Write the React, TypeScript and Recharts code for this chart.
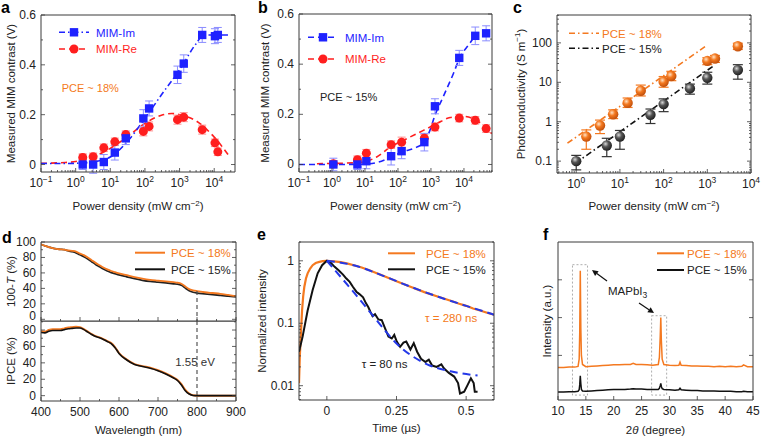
import React from 'react';
import { ComposedChart, Line, Scatter, XAxis, YAxis, ErrorBar, ReferenceLine, ReferenceArea } from 'recharts';

const FONT = '"Liberation Sans", Arial, Helvetica, sans-serif';
const ORANGE = '#f47920';
const BLUE = '#1e22ff';
const BLUE_ERR = '#8a8cff';
const RED = '#ff1e1e';
const RED_ERR = '#ff8c8c';
const INK = '#222';
const FRAME = '#3a3a3a';
const FIT_BLUE = '#2438e8';

// ---- panel a: MIM contrast vs power, PCE ~ 18%
const aPower = [1.6, 3.2, 6.5, 13.5, 28, 90, 132, 870, 1320, 4500, 10500, 12700];
const aImY = [0, 0, 0.01, 0.048, 0.105, 0.185, 0.225, 0.36, 0.405, 0.52, 0.515, 0.52];
const aImErr = [0.02, 0.035, 0.03, 0.03, 0.025, 0.035, 0.03, 0.035, 0.035, 0.03, 0.03, 0.03];
const aReY = [0.028, 0.031, 0.067, 0.091, 0.12, 0.133, 0.153, 0.18, 0.19, 0.14, 0.087, 0.051];
const aReErr = [0.015, 0.015, 0.015, 0.015, 0.015, 0.018, 0.018, 0.018, 0.018, 0.018, 0.015, 0.015];
const aImFitX = [0.1, 0.5, 1, 3, 10, 30, 100, 300, 1000, 3000, 5000, 10000, 20000, 30000];
const aImFitY = [0.004, 0.004, 0.005, 0.01, 0.03, 0.09, 0.185, 0.28, 0.38, 0.485, 0.52, 0.52, 0.52, 0.52];
const aReFitX = [0.1, 0.5, 1, 3, 10, 30, 100, 300, 600, 1000, 3000, 10000, 25000];
const aReFitY = [0.005, 0.008, 0.012, 0.03, 0.065, 0.11, 0.165, 0.198, 0.205, 0.2, 0.175, 0.11, 0.04];

// ---- panel b: MIM contrast vs power, PCE ~ 15%
const bPower = [1.1, 5.9, 11, 62, 129, 630, 1320, 7200, 22000, 47000];
const bImY = [0, 0, 0.013, 0.033, 0.053, 0.089, 0.232, 0.425, 0.513, 0.523];
const bImErr = [0.025, 0.02, 0.03, 0.035, 0.03, 0.035, 0.03, 0.03, 0.035, 0.03];
const bReY = [0.003, 0.019, 0.045, 0.079, 0.089, 0.105, 0.149, 0.185, 0.176, 0.143];
const bReErr = [0.012, 0.015, 0.015, 0.015, 0.02, 0.015, 0.015, 0.015, 0.015, 0.015];
const bImFitX = [0.1, 1, 8, 22, 62, 129, 370, 630, 930, 1320, 2350, 4800, 7300, 15000, 24000];
const bImFitY = [0, 0, 0.001, 0.007, 0.029, 0.049, 0.069, 0.089, 0.136, 0.196, 0.27, 0.363, 0.423, 0.483, 0.523];
const bReFitX = [0.35, 7, 22, 58, 145, 590, 1500, 3800, 9600, 24000, 70000];
const bReFitY = [0.003, 0.008, 0.029, 0.069, 0.096, 0.136, 0.163, 0.187, 0.192, 0.176, 0.123];

// ---- panel c: photoconductivity
const cOrX = [1.7, 3.5, 7, 15, 30, 100, 150, 1000, 1500, 5000];
const cOrY = [0.42, 0.8, 1.55, 3.0, 6.1, 10.3, 14.4, 35, 40, 82];
const cOrLo = [0.2, 0.5, 1.2, 2.3, 4.5, 7.5, 11, 28, 32, 68];
const cOrHi = [0.62, 1.1, 2.0, 4.0, 8.5, 14, 19, 42, 48, 98];
const cBkX = [1, 5, 10, 50, 100, 400, 1000, 5000];
const cBkY = [0.1, 0.25, 0.42, 1.5, 2.8, 7.0, 13, 20.5];
const cBkLo = [0.06, 0.13, 0.2, 0.9, 1.8, 5.0, 9, 12];
const cBkHi = [0.14, 0.38, 0.6, 2.1, 3.8, 9.0, 18, 28];
const cOrFitX = [0.63, 1000];
const cOrFitY = [0.285, 88];
const cBkFitX = [0.95, 1450];
const cBkFitY = [0.088, 27];

// ---- panel d: absorption and IPCE
const dWl = [400, 410, 420, 430, 440, 450, 460, 470, 480, 490, 500, 510, 520, 530, 540, 550, 560, 570, 580, 590, 600, 620, 640, 660, 680, 700, 720, 740, 750, 760, 770, 780, 790, 800, 820, 840, 860, 880, 900];
const dAbsOr = [97, 95, 93.5, 92, 91, 90.5, 90, 89, 88.5, 87.5, 85, 83, 80, 76.5, 73, 70, 67, 64.5, 62.5, 61, 59.5, 57, 54.5, 52.5, 51, 50, 49, 48, 47.5, 46, 42.5, 39, 37.5, 36.5, 35, 34, 33, 31.5, 30];
const dAbsBk = [97, 95, 93.5, 92, 91, 90.5, 90, 88.5, 87.5, 86, 83.5, 81, 78, 74.5, 71, 68, 65, 62.5, 60.5, 59, 57.5, 55, 52.5, 50.5, 49, 48, 47, 46, 45.5, 44, 40.5, 37, 35, 34, 33, 32, 31, 30, 29];
const dIpceOr = [78.5, 78, 80, 81, 81, 81, 82, 83, 83.5, 84, 83.5, 81, 78, 75, 72.5, 71, 69, 66.5, 64, 59, 52, 44, 38.5, 36, 34, 31, 27, 22, 19, 14, 7, 2.5, 0.5, 0, 0, 0, 0, 0, 0];
const dIpceBk = [77, 76.5, 78.5, 79.5, 79.5, 79.5, 80.5, 81.5, 82, 82.5, 82.5, 80.5, 77.5, 74.5, 72, 70.5, 68.5, 66, 63.5, 58.5, 51.5, 43.5, 38, 35.5, 33.5, 30.5, 26.5, 21.5, 18.5, 13, 6, 2, 0.3, 0, 0, 0, 0, 0, 0];

// ---- panel e: TRPL
const eOrX = [-0.1, -0.097, -0.093, -0.089, -0.085, -0.081, -0.075, -0.069, -0.06, -0.051, -0.04, -0.027, -0.015, 0, 0.025, 0.05, 0.075, 0.1, 0.125, 0.15, 0.2, 0.25, 0.3, 0.35, 0.4, 0.45, 0.475, 0.5, 0.525, 0.55, 0.575, 0.6];
const eOrY = [0.011, 0.03, 0.07, 0.16, 0.27, 0.38, 0.52, 0.63, 0.75, 0.85, 0.92, 0.96, 0.985, 1, 0.98, 0.95, 0.9, 0.84, 0.78, 0.71, 0.58, 0.47, 0.385, 0.315, 0.265, 0.225, 0.205, 0.19, 0.172, 0.16, 0.147, 0.137];
const eBkX = [-0.1, -0.087, -0.069, -0.051, -0.033, -0.017, 0, 0.015, 0.028, 0.043, 0.058, 0.07, 0.082, 0.094, 0.106, 0.118, 0.13, 0.14, 0.149, 0.157, 0.164, 0.173, 0.185, 0.197, 0.209, 0.221, 0.233, 0.242, 0.251, 0.263, 0.275, 0.285, 0.3, 0.312, 0.324, 0.338, 0.354, 0.366, 0.378, 0.394, 0.411, 0.42, 0.438, 0.457, 0.471, 0.478, 0.493, 0.505, 0.517, 0.527, 0.531, 0.541];
const eBkY = [0.035, 0.061, 0.16, 0.34, 0.63, 0.85, 1, 0.92, 0.8, 0.7, 0.6, 0.52, 0.46, 0.38, 0.32, 0.29, 0.26, 0.21, 0.18, 0.15, 0.13, 0.14, 0.115, 0.112, 0.083, 0.061, 0.057, 0.065, 0.051, 0.042, 0.049, 0.051, 0.038, 0.048, 0.035, 0.027, 0.024, 0.026, 0.021, 0.02, 0.022, 0.019, 0.016, 0.014, 0.011, 0.0075, 0.008, 0.0102, 0.0131, 0.011, 0.008, 0.008];
const eOrFitX = [0, 0.1, 0.2, 0.3, 0.4, 0.5, 0.6];
const eOrFitY = [1, 0.84, 0.58, 0.385, 0.265, 0.19, 0.137];
const eBkFitX = [0, 0.05, 0.1, 0.167, 0.251, 0.36, 0.444, 0.541];
const eBkFitY = [1, 0.55, 0.3, 0.13, 0.047, 0.022, 0.017, 0.0145];

// ---- panel f: XRD
const fTheta = [10, 11, 12, 13, 13.6, 13.8, 13.9, 14.0, 14.1, 14.2, 14.4, 15, 16, 17, 18, 19, 20, 21, 22, 23, 23.5, 24, 25, 26, 27, 28, 28.2, 28.35, 28.45, 28.55, 28.7, 29, 30, 31, 31.7, 31.9, 32.1, 33, 34, 35, 36, 37, 38, 39, 40, 41, 42, 43, 43.3, 44, 45];
const fOr = [0.68, 0.68, 0.69, 0.69, 0.71, 0.9, 1.6, 3.24, 1.7, 1.0, 0.76, 0.7, 0.71, 0.72, 0.73, 0.74, 0.75, 0.75, 0.76, 0.76, 0.79, 0.76, 0.76, 0.75, 0.74, 0.76, 0.95, 1.5, 2.0, 1.4, 0.9, 0.76, 0.74, 0.73, 0.74, 0.82, 0.74, 0.73, 0.72, 0.72, 0.71, 0.71, 0.7, 0.71, 0.7, 0.71, 0.7, 0.71, 0.75, 0.7, 0.7];
const fBk = [0.03, 0.03, 0.04, 0.04, 0.05, 0.09, 0.22, 0.46, 0.25, 0.1, 0.06, 0.05, 0.06, 0.07, 0.08, 0.09, 0.1, 0.1, 0.1, 0.11, 0.12, 0.11, 0.11, 0.1, 0.1, 0.1, 0.13, 0.2, 0.26, 0.18, 0.12, 0.1, 0.09, 0.08, 0.09, 0.13, 0.09, 0.08, 0.07, 0.07, 0.06, 0.06, 0.06, 0.05, 0.05, 0.05, 0.04, 0.04, 0.05, 0.04, 0.04];

const zip = (xs: number[], ys: number[]) => xs.map((x, i) => ({ x, y: ys[i] }));
const withErr = (xs: number[], ys: number[], es: number[]) => xs.map((x, i) => ({ x, y: ys[i], e: es[i] }));
const withRange = (xs: number[], ys: number[], lo: number[], hi: number[]) =>
  xs.map((x, i) => ({ x, y: ys[i], e: [ys[i] - lo[i], hi[i] - ys[i]] }));

const logTicks = (lo: number, hi: number) => {
  const out: number[] = [];
  for (let e = -3; e <= 5; e++) {
    for (let d = 1; d <= 9; d++) {
      const v = +(d * 10 ** e).toPrecision(6);
      if (v >= lo * 0.9999 && v <= hi * 1.0001) out.push(v);
    }
  }
  return out;
};
const step = (a: number, b: number, s: number) => {
  const out: number[] = [];
  for (let v = a; v <= b + 1e-9; v += s) out.push(+v.toFixed(6));
  return out;
};

const isIn = (v: number, list: number[]) => list.some((m) => Math.abs(m - v) <= Math.abs(m) * 1e-6 + 1e-12);

const pow10 = (v: number) => {
  const e = Math.round(Math.log10(v));
  return (
    <>
      10<tspan dy={-5} fontSize={8.5}>{e < 0 ? '\u2212' + -e : e}</tspan>
    </>
  );
};
const plain = (v: number) => String(v);

type Side = 'bottom' | 'top' | 'left' | 'right';
const mkTick = (side: Side, majors: number[], fmt?: (v: number) => React.ReactNode, dy = 4) => (p: any) => {
  const v = p.payload.value;
  const major = isIn(v, majors);
  const len = major ? 4 : 2;
  const { x, y } = p;
  let line;
  if (side === 'bottom') line = <line x1={x} x2={x} y1={y} y2={y - len} />;
  else if (side === 'top') line = <line x1={x} x2={x} y1={y} y2={y + len} />;
  else if (side === 'left') line = <line x1={x} x2={x + len} y1={y} y2={y} />;
  else line = <line x1={x} x2={x - len} y1={y} y2={y} />;
  return (
    <g>
      <g stroke={FRAME} strokeWidth={0.8}>{line}</g>
      {major && fmt && side === 'bottom' && (
        <text x={x} y={y + 15} textAnchor="middle" fontFamily={FONT} fontSize={12} fill={INK}>
          {fmt(v)}
        </text>
      )}
      {major && fmt && side === 'left' && (
        <text x={x - 5} y={y + (v === 0 ? dy : 4)} textAnchor="end" fontFamily={FONT} fontSize={12} fill={INK}>
          {fmt(v)}
        </text>
      )}
    </g>
  );
};

type Ax = { domain: [number, number]; ticks: number[]; majors: number[]; log?: boolean; fmt?: (v: number) => React.ReactNode; zeroDy?: number };
const common = {
  type: 'number' as const,
  allowDataOverflow: true,
  interval: 0 as const,
  tickSize: 0,
  tickMargin: 0,
  tickLine: false,
  axisLine: { stroke: FRAME, strokeWidth: 1 },
};

// axes take 1px each (a zero-sized axis is not drawn), so margins are trimmed by 1
const mg = (top: number, right: number, bottom: number, left: number) => ({ top: top - 1, right: right - 1, bottom: bottom - 1, left: left - 1 });

function frame(xa: Ax, ya: Ax, showX = true) {
  const xs = xa.log ? 'log' : 'linear';
  const ys = ya.log ? 'log' : 'linear';
  return [
    <XAxis key="xb" xAxisId={0} dataKey="x" {...common} scale={xs} domain={xa.domain} ticks={xa.ticks} height={1}
      tick={mkTick('bottom', xa.majors, showX ? xa.fmt : undefined)} />,
    <XAxis key="xt" xAxisId="t" orientation="top" {...common} scale={xs} domain={xa.domain} ticks={xa.ticks} height={1}
      tick={mkTick('top', xa.majors)} />,
    <YAxis key="yl" yAxisId={0} dataKey="y" {...common} scale={ys} domain={ya.domain} ticks={ya.ticks} width={1}
      tick={mkTick('left', ya.majors, ya.fmt, ya.zeroDy ?? 4)} />,
    <YAxis key="yr" yAxisId="r" orientation="right" {...common} scale={ys} domain={ya.domain} ticks={ya.ticks} width={1}
      tick={mkTick('right', ya.majors)} />,
  ];
}

const T = (p: any) => <text fontFamily={FONT} fontSize={11.5} fill={INK} {...p} />;
const Letter = ({ x, y, c }: { x: number; y: number; c: string }) => (
  <text x={x} y={y} fontFamily={FONT} fontSize={16} fontWeight="bold" fill="#000">{c}</text>
);
const YTitle = ({ x, y, children }: any) => (
  <text x={x} y={y} transform={`rotate(-90 ${x} ${y})`} textAnchor="middle" dominantBaseline="central"
    fontFamily={FONT} fontSize={11.5} fill={INK}>
    {children}
  </text>
);
const PowerTitle = ({ x, y }: { x: number; y: number }) => (
  <T x={x} y={y} textAnchor="middle">
    Power density (mW cm<tspan dy={-4} fontSize={8}>{'\u2212'}2</tspan><tspan dy={4}>)</tspan>
  </T>
);

const square = (fill: string) => (p: any) => <rect x={p.cx - 4.2} y={p.cy - 4.2} width={8.4} height={8.4} fill={fill} />;
const dot = (fill: string) => (p: any) => <circle cx={p.cx} cy={p.cy} r={4.5} fill={fill} />;
const sphere = (id: string) => (p: any) => <circle cx={p.cx} cy={p.cy} r={5.2} fill={`url(#${id})`} />;

const box = (l: number, t: number, w: number, h: number): React.CSSProperties => ({ position: 'absolute', left: l, top: t, width: w, height: h });

const powerX = (hi: number): Ax => ({ domain: [0.1, hi], ticks: logTicks(0.1, hi), majors: [0.1, 1, 10, 100, 1000, 10000], log: true, fmt: pow10 });
const mimY: Ax = { domain: [-0.03, 0.6], ticks: step(0, 0.6, 0.1), majors: [0, 0.2, 0.4, 0.6], fmt: plain };

function MimPanel(props: {
  left: number; w: number; m: number[]; letter: string; lx: number; hi: number;
  pw: number[]; im: number[]; imE: number[]; re: number[]; reE: number[];
  imFx: number[]; imFy: number[]; reFx: number[]; reFy: number[];
  imDash: string; legX: number; legY: number[]; pce: string; pceColor: string; pceX: number; pceY: number; ytx: number;
}) {
  const p = props;
  const W = p.w, H = 215;
  const [mt, mr, mb, ml] = p.m;
  return (
    <div style={box(p.left, 0, W, H)}>
      <ComposedChart width={W} height={H} margin={mg(mt, mr, mb, ml)}>
        {frame(powerX(p.hi), mimY)}
        <Line data={zip(p.reFx, p.reFy)} dataKey="y" type="monotone" stroke={RED} strokeWidth={1.6} strokeDasharray="6 4" dot={false} activeDot={false} isAnimationActive={false} />
        <Line data={zip(p.imFx, p.imFy)} dataKey="y" type="monotone" stroke={BLUE} strokeWidth={1.6} strokeDasharray={p.imDash} dot={false} activeDot={false} isAnimationActive={false} />
        <Scatter data={withErr(p.pw, p.re, p.reE)} dataKey="y" shape={dot(RED)} isAnimationActive={false}>
          <ErrorBar dataKey="e" direction="y" width={4} stroke={RED_ERR} strokeWidth={1} />
        </Scatter>
        <Scatter data={withErr(p.pw, p.im, p.imE)} dataKey="y" shape={square(BLUE)} isAnimationActive={false}>
          <ErrorBar dataKey="e" direction="y" width={4} stroke={BLUE_ERR} strokeWidth={1} />
        </Scatter>
        <Letter x={p.lx} y={13} c={p.letter} />
        <line x1={p.legX} x2={p.legX + 30} y1={p.legY[0]} y2={p.legY[0]} stroke={BLUE} strokeWidth={1.6} strokeDasharray={p.imDash} />
        <rect x={p.legX + 15 - 4.2} y={p.legY[0] - 4.2} width={8.4} height={8.4} fill={BLUE} />
        <T x={p.legX + 37} y={p.legY[0] + 4.2} fill={BLUE}>MIM-Im</T>
        <line x1={p.legX} x2={p.legX + 30} y1={p.legY[1]} y2={p.legY[1]} stroke={RED} strokeWidth={1.6} strokeDasharray="6 4" />
        <circle cx={p.legX + 15} cy={p.legY[1]} r={4.5} fill={RED} />
        <T x={p.legX + 37} y={p.legY[1] + 4.2} fill={RED}>MIM-Re</T>
        <T x={p.pceX} y={p.pceY} fill={p.pceColor} fontSize={11}>{p.pce}</T>
        <YTitle x={p.ytx} y={(mt + H - mb) / 2}>Measured MIM contrast (V)</YTitle>
        <PowerTitle x={(ml + W - mr) / 2} y={210} />
      </ComposedChart>
    </div>
  );
}

function PanelC() {
  const W = 257, H = 215;
  const xa: Ax = { domain: [0.363, 10000], ticks: logTicks(0.363, 10000), majors: [1, 10, 100, 1000, 10000], log: true, fmt: pow10 };
  const ya: Ax = { domain: [0.05, 510], ticks: logTicks(0.05, 510), majors: [0.1, 1, 10, 100], log: true, fmt: plain };
  return (
    <div style={box(505, 0, W, H)}>
      <ComposedChart width={W} height={H} margin={mg(15, 11, 42, 52)}>
        <defs>
          <radialGradient id="sphOr" cx="38%" cy="35%" r="65%">
            <stop offset="0%" stopColor="#ffe2c4" />
            <stop offset="45%" stopColor="#f47920" />
            <stop offset="100%" stopColor="#c2500c" />
          </radialGradient>
          <radialGradient id="sphBk" cx="38%" cy="35%" r="65%">
            <stop offset="0%" stopColor="#d8d8d8" />
            <stop offset="45%" stopColor="#555" />
            <stop offset="100%" stopColor="#222" />
          </radialGradient>
        </defs>
        {frame(xa, ya)}
        <Line data={zip(cOrFitX, cOrFitY)} dataKey="y" type="linear" stroke={ORANGE} strokeWidth={1.6} strokeDasharray="6 3 1.5 3" dot={false} activeDot={false} isAnimationActive={false} />
        <Line data={zip(cBkFitX, cBkFitY)} dataKey="y" type="linear" stroke="#111" strokeWidth={1.6} strokeDasharray="6 3 1.5 3" dot={false} activeDot={false} isAnimationActive={false} />
        <Scatter data={withRange(cBkX, cBkY, cBkLo, cBkHi)} dataKey="y" shape={sphere('sphBk')} isAnimationActive={false}>
          <ErrorBar dataKey="e" direction="y" width={5} stroke="#333" strokeWidth={1.2} />
        </Scatter>
        <Scatter data={withRange(cOrX, cOrY, cOrLo, cOrHi)} dataKey="y" shape={sphere('sphOr')} isAnimationActive={false}>
          <ErrorBar dataKey="e" direction="y" width={5} stroke={ORANGE} strokeWidth={1.2} />
        </Scatter>
        <Letter x={8} y={13} c="c" />
        <line x1={64} x2={94} y1={33.3} y2={33.3} stroke={ORANGE} strokeWidth={1.6} strokeDasharray="6 3 1.5 3" />
        <T x={97} y={37.5} fill={ORANGE}>PCE ~ 18%</T>
        <line x1={64} x2={94} y1={48.3} y2={48.3} stroke="#111" strokeWidth={1.6} strokeDasharray="6 3 1.5 3" />
        <T x={97} y={52.5}>PCE ~ 15%</T>
        <YTitle x={16} y={94}>
          Photoconductivity (S m<tspan dy={-4} fontSize={8}>{'\u2212'}1</tspan><tspan dy={4}>)</tspan>
        </YTitle>
        <PowerTitle x={149} y={210} />
      </ComposedChart>
    </div>
  );
}

function PanelD() {
  const W = 250;
  const xa: Ax = { domain: [400, 900], ticks: step(400, 900, 50), majors: step(400, 900, 100), fmt: plain };
  const yTop: Ax = { domain: [-2.2, 100], ticks: step(0, 100, 10), majors: step(0, 100, 20), fmt: plain, zeroDy: 1 };
  const yBot: Ax = { domain: [-6.5, 91], ticks: step(0, 90, 10), majors: step(0, 80, 20), fmt: plain };
  return (
    <>
      <div style={box(0, 225, W, 106)}>
        <ComposedChart width={W} height={106} margin={mg(17, 14, 10, 41)}>
          {frame(xa, yTop, false)}
          <Line data={zip(dWl, dAbsBk)} dataKey="y" type="monotone" stroke="#222" strokeWidth={1.8} dot={false} activeDot={false} isAnimationActive={false} />
          <Line data={zip(dWl, dAbsOr)} dataKey="y" type="monotone" stroke={ORANGE} strokeWidth={1.8} dot={false} activeDot={false} isAnimationActive={false} />
          <ReferenceLine segment={[{ x: 800, y: 36.5 }, { x: 800, y: -2.2 }]} stroke="#555" strokeDasharray="4 3" strokeWidth={1.2} />
          <Letter x={2} y={18} c="d" />
          <line x1={135} x2={165} y1={27.7} y2={27.7} stroke={ORANGE} strokeWidth={2} />
          <T x={171} y={31.9} fill={ORANGE}>PCE ~ 18%</T>
          <line x1={135} x2={165} y1={44.3} y2={44.3} stroke="#111" strokeWidth={2} />
          <T x={171} y={48.5}>PCE ~ 15%</T>
          <YTitle x={11} y={56.5}>100-<tspan fontStyle="italic">T</tspan> (%)</YTitle>
        </ComposedChart>
      </div>
      <div style={box(0, 321, W, 116)}>
        <ComposedChart width={W} height={116} margin={mg(0, 14, 36, 41)}>
          {frame(xa, yBot)}
          <ReferenceLine segment={[{ x: 800, y: 91 }, { x: 800, y: 0 }]} stroke="#555" strokeDasharray="4 3" strokeWidth={1.2} />
          <Line data={zip(dWl, dIpceOr)} dataKey="y" type="monotone" stroke={ORANGE} strokeWidth={2} dot={false} activeDot={false} isAnimationActive={false} />
          <Line data={zip(dWl, dIpceBk)} dataKey="y" type="monotone" stroke="#111" strokeWidth={1.6} dot={false} activeDot={false} isAnimationActive={false} />
          <T x={195} y={45} textAnchor="middle" fill="#333">1.55 eV</T>
          <YTitle x={11} y={40}>IPCE (%)</YTitle>
          <T x={138.5} y={113} textAnchor="middle">Wavelength (nm)</T>
        </ComposedChart>
      </div>
    </>
  );
}

function PanelE() {
  const W = 255, H = 212;
  const xa: Ax = { domain: [-0.1, 0.6], ticks: [0, 0.25, 0.5], majors: [0, 0.25, 0.5], fmt: plain };
  const ya: Ax = { domain: [0.0059, 2], ticks: logTicks(0.0059, 2), majors: [0.01, 0.1, 1], log: true, fmt: plain };
  return (
    <div style={box(250, 225, W, H)}>
      <ComposedChart width={W} height={H} margin={mg(17, 11, 37, 49)}>
        {frame(xa, ya)}
        <Line data={zip(eOrX, eOrY)} dataKey="y" type="linear" stroke={ORANGE} strokeWidth={2.2} dot={false} activeDot={false} isAnimationActive={false} />
        <Line data={zip(eBkX, eBkY)} dataKey="y" type="linear" stroke="#111" strokeWidth={2} dot={false} activeDot={false} isAnimationActive={false} />
        <Line data={zip(eOrFitX, eOrFitY)} dataKey="y" type="monotone" stroke={FIT_BLUE} strokeWidth={2} strokeDasharray="8 5" dot={false} activeDot={false} isAnimationActive={false} />
        <Line data={zip(eBkFitX, eBkFitY)} dataKey="y" type="monotone" stroke={FIT_BLUE} strokeWidth={2} strokeDasharray="8 5" dot={false} activeDot={false} isAnimationActive={false} />
        <Letter x={7} y={15} c="e" />
        <line x1={138} x2={165} y1={28.3} y2={28.3} stroke={ORANGE} strokeWidth={2} />
        <T x={176} y={32.5} fill={ORANGE}>PCE ~ 18%</T>
        <line x1={138} x2={165} y1={44.3} y2={44.3} stroke="#111" strokeWidth={2} />
        <T x={176} y={48.5}>PCE ~ 15%</T>
        <T x={175} y={97} fill={ORANGE}>{'\u03c4'} = 280 ns</T>
        <T x={111.7} y={143}>{'\u03c4'} = 80 ns</T>
        <YTitle x={12} y={96}>Normalized intensity</YTitle>
        <T x={146.5} y={207} textAnchor="middle">Time (µs)</T>
      </ComposedChart>
    </div>
  );
}

function PanelF() {
  const W = 257, H = 212;
  const xa: Ax = { domain: [10, 45], ticks: step(10, 45, 5), majors: step(10, 45, 5), fmt: plain };
  const ya: Ax = { domain: [-0.18, 4], ticks: [1, 2, 3], majors: [1, 2, 3] };
  const arrow = (x1: number, y1: number, x2: number, y2: number) => {
    const a = Math.atan2(y2 - y1, x2 - x1);
    const L = 6, Wd = 3;
    const bx = x2 - L * Math.cos(a), by = y2 - L * Math.sin(a);
    const pts = `${x2},${y2} ${bx + Wd * Math.sin(a)},${by - Wd * Math.cos(a)} ${bx - Wd * Math.sin(a)},${by + Wd * Math.cos(a)}`;
    return (
      <g>
        <line x1={x1} y1={y1} x2={bx} y2={by} stroke="#111" strokeWidth={1.2} />
        <polygon points={pts} fill="#111" />
      </g>
    );
  };
  return (
    <div style={box(505, 225, W, H)}>
      <ComposedChart width={W} height={H} margin={mg(17, 9, 37, 53)}>
        {frame(xa, ya)}
        <ReferenceArea x1={12.6} x2={15.3} y1={-0.05} y2={3.4} fill="none" fillOpacity={0} stroke="#999" strokeDasharray="2 2" strokeWidth={0.8} />
        <ReferenceArea x1={26.8} x2={29.5} y1={-0.05} y2={2.05} fill="none" fillOpacity={0} stroke="#999" strokeDasharray="2 2" strokeWidth={0.8} />
        <Line data={zip(fTheta, fOr)} dataKey="y" type="linear" stroke={ORANGE} strokeWidth={1.5} dot={false} activeDot={false} isAnimationActive={false} />
        <Line data={zip(fTheta, fBk)} dataKey="y" type="linear" stroke="#111" strokeWidth={1.5} dot={false} activeDot={false} isAnimationActive={false} />
        <Letter x={38} y={15} c="f" />
        <line x1={152} x2={179} y1={28.3} y2={28.3} stroke={ORANGE} strokeWidth={2} />
        <T x={182} y={32.5} fill={ORANGE}>PCE ~ 18%</T>
        <line x1={152} x2={179} y1={45} y2={45} stroke="#111" strokeWidth={2} />
        <T x={182} y={49.2}>PCE ~ 15%</T>
        {arrow(102, 56, 87, 45)}
        {arrow(134, 78, 149, 88)}
        <T x={103} y={70}>MAPbI<tspan dy={3} fontSize={8.5}>3</tspan></T>
        <YTitle x={42} y={96}>Intensity (a.u.)</YTitle>
        <T x={150.5} y={209} textAnchor="middle">2<tspan fontStyle="italic">{'\u03b8'}</tspan> (degree)</T>
      </ComposedChart>
    </div>
  );
}

export default function App() {
  return (
    <div style={{ position: 'absolute', left: 0, top: 0, width: 762, height: 437, background: '#fff', fontFamily: FONT }}>
      <MimPanel left={0} w={250} m={[15, 15, 43, 41]} letter="a" lx={1} hi={39800}
        pw={aPower} im={aImY} imE={aImErr} re={aReY} reE={aReErr}
        imFx={aImFitX} imFy={aImFitY} reFx={aReFitX} reFy={aReFitY} imDash="6 3 1.5 3"
        legX={59} legY={[32.3, 49]} pce="PCE ~ 18%" pceColor={ORANGE} pceX={61.7} pceY={91.5} ytx={11} />
      <MimPanel left={250} w={255} m={[14, 13, 43, 49]} letter="b" lx={8} hi={70800}
        pw={bPower} im={bImY} imE={bImErr} re={bReY} reE={bReErr}
        imFx={bImFitX} imFy={bImFitY} reFx={bReFitX} reFy={bReFitY} imDash="6 4"
        legX={58} legY={[37.3, 59]} pce="PCE ~ 15%" pceColor={INK} pceX={70} pceY={100.5} ytx={15} />
      <PanelC />
      <PanelD />
      <PanelE />
      <PanelF />
    </div>
  );
}
